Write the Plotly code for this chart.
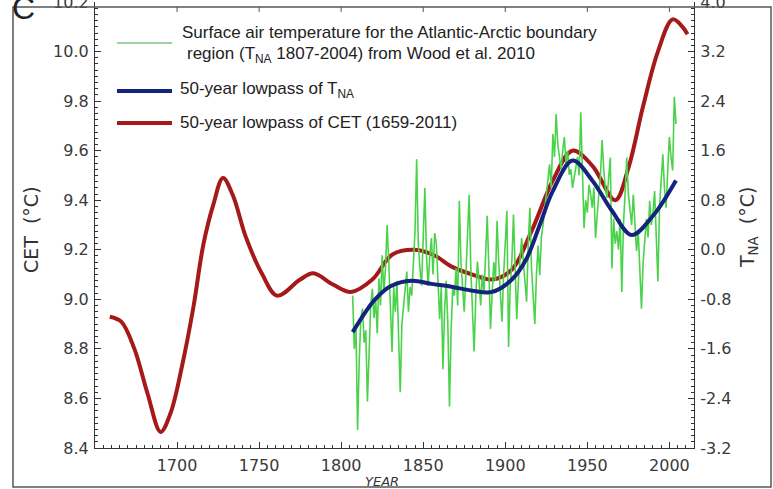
import plotly.graph_objects as go

# 50-year lowpass of Central England Temperature (left axis, deg C)
cet_years = [1659, 1666, 1674, 1682, 1690, 1696, 1703, 1710, 1716, 1722, 1728, 1734,
             1742, 1752, 1761, 1775, 1783, 1795, 1806, 1819, 1831, 1844, 1856, 1868,
             1880, 1892, 1904, 1916, 1929, 1941, 1953, 1967, 1975, 1984, 1993, 2002,
             2008, 2011]
cet_lowpass = [8.93, 8.91, 8.80, 8.62, 8.465, 8.54, 8.73, 8.97, 9.22, 9.38, 9.49, 9.42,
               9.25, 9.10, 9.015, 9.08, 9.105, 9.06, 9.03, 9.08, 9.18, 9.20, 9.18, 9.13,
               9.10, 9.08, 9.12, 9.275, 9.48, 9.60, 9.54, 9.40, 9.53, 9.78, 10.0, 10.13,
               10.10, 10.07]

# 50-year lowpass of T_NA (right axis, deg C)
tna_lp_years = [1807, 1815, 1820, 1830, 1843, 1855, 1868, 1880, 1892, 1904, 1913,
                1921, 1929, 1941, 1953, 1965, 1977, 1990, 2004]
tna_lowpass = [-1.33, -1.0, -0.82, -0.59, -0.50, -0.55, -0.60, -0.66, -0.68, -0.48,
               -0.14, 0.40, 0.95, 1.44, 1.12, 0.63, 0.24, 0.55, 1.12]

# Annual surface air temperature for the Atlantic-Arctic boundary region, 1807-2004
tna_years = list(range(1807, 2005))
tna_annual = [
    -0.74, -1.6, -1.2, -2.91, -1.8, -1.1, -0.95, -1.5, -1.3, -2.45,      # 1807-1816
    -1.7, -0.9, -0.63, -1.1, -0.8, -1.35, -0.46, -0.9, -0.09, -0.7,      # 1817-1826
    -0.3, 0.40, -0.2, -0.9, -1.65, -0.6, -1.0, -0.5, -1.4, -2.30,        # 1827-1836
    -1.2, -0.9, -0.63, -0.35, -1.0, -0.6, -0.74, -0.2, 0.3, 1.46,        # 1837-1846
    0.1, -0.3, -0.58, 0.2, 1.0, -0.1, -0.58, -0.1, 0.19, -0.4,           # 1847-1856
    0.27, 0.1, -0.5, -1.12, -0.6, -1.93, -1.0, -0.5, -1.2, -2.53,        # 1857-1866
    -1.3, -0.6, -0.74, -0.3, -0.9, 0.79, -0.2, -0.6, -1.0, -0.4,         # 1867-1876
    0.2, 0.89, -0.3, -0.90, -1.64, -0.8, -0.19, -0.5, -0.90, -0.4,       # 1877-1886
    -0.7, -0.1, 0.55, -0.3, -1.28, -0.7, -0.2, -0.5, 0.47, -0.2,         # 1887-1896
    -0.7, -1.16, -0.4, 0.1, 0.63, -1.57, -0.6, -0.2, 0.57, -0.3,         # 1897-1906
    -1.12, -0.5, -0.1, 0.19, -0.2, -0.5, -0.84, 0.1, 0.68, -0.3,         # 1907-1916
    -0.7, -1.20, -0.4, 0.07, -0.41, 0.2, 0.4, 0.63, 0.9, 1.1,            # 1917-1926
    1.38, 1.0, 1.87, 1.5, 2.19, 1.7, 1.49, 1.3, 1.6, 1.82,               # 1927-1936
    1.4, 1.6, 1.21, 1.3, 1.0, 1.2, 1.33, 1.5, 1.2, 2.22,                 # 1937-1946
    1.1, 0.35, 0.8, 0.6, 1.05, 0.9, 0.68, 1.0, 0.19, 0.6,                # 1947-1956
    0.9, 1.2, 1.77, 1.3, 1.0, 0.84, 1.2, 1.49, -0.30, 0.5,               # 1957-1966
    0.1, 0.30, 0.0, 0.5, -0.68, 0.4, 0.9, 1.49, 0.9, 0.68,               # 1967-1976
    0.4, 0.89, 0.5, -0.02, 0.3, -0.5, -0.95, -0.2, 0.19, 0.5,            # 1977-1986
    0.2, 0.79, 0.4, 0.6, 0.95, 0.2, -0.51, 0.7, 1.1, 1.54,               # 1987-1996
    1.0, 0.68, 1.3, 1.82, 1.5, 1.28, 2.47, 2.03,                         # 1997-2004
]

x_ticks = [1700, 1750, 1800, 1850, 1900, 1950, 2000]
cet_ticks = [8.4, 8.6, 8.8, 9.0, 9.2, 9.4, 9.6, 9.8, 10.0, 10.2]
tna_ticks = [-3.2, -2.4, -1.6, -0.8, 0.0, 0.8, 1.6, 2.4, 3.2, 4.0]

GREEN = "#4ad34a"
BLUE = "#15237c"
RED = "#a5191b"
TXT = "#333333"
TICKFONT = dict(family="DejaVu Sans", size=16, color="#3a3a3a")
LEGFONT = dict(family="Liberation Sans Narrow, Liberation Sans", size=17, color="#222222")

fig = go.Figure()
fig.add_trace(go.Scatter(x=tna_years, y=tna_annual, yaxis="y2", mode="lines",
                         line=dict(color=GREEN, width=1.6), showlegend=False))
fig.add_trace(go.Scatter(x=tna_lp_years, y=tna_lowpass, yaxis="y2", mode="lines",
                         line=dict(color=BLUE, width=4, shape="spline", smoothing=1.0),
                         showlegend=False))
fig.add_trace(go.Scatter(x=cet_years, y=cet_lowpass, yaxis="y", mode="lines",
                         line=dict(color=RED, width=4, shape="spline", smoothing=1.0),
                         showlegend=False))

W, H = 773, 489
L, R, T, B = 95, 79, 2, 41
PW, PH = W - L - R, H - T - B


def px(xp):
    return (xp - L) / PW


def py(yp):
    return (H - B - yp) / PH


axis_common = dict(showline=True, linecolor="#333333", linewidth=1.2,
                   ticks="inside", tickcolor="#333333", ticklen=6, tickwidth=1.2,
                   showgrid=False, zeroline=False, tickfont=TICKFONT,
                   ticklabeloverflow="allow", automargin=False)

fig.update_layout(
    width=W, height=H,
    margin=dict(l=L, r=R, t=T, b=B),
    paper_bgcolor="white", plot_bgcolor="white",
    xaxis=dict(range=[1650, 2015], tickvals=x_ticks, ticktext=[str(v) for v in x_ticks],
               minor=dict(dtick=5, ticks="inside", ticklen=3, tickcolor="#333333"),
               ticklabelstandoff=3, **axis_common),
    yaxis=dict(range=[8.4, 10.2001], tickvals=cet_ticks,
               ticktext=[f"{v:.1f}" for v in cet_ticks],
               minor=dict(dtick=0.025, tick0=8.4, ticks="inside", ticklen=3, tickcolor="#333333"),
               ticklabelstandoff=2, **axis_common),
    yaxis2=dict(range=[-3.2, 4.0004], tickvals=tna_ticks,
                ticktext=[f"{v:.1f}" for v in tna_ticks],
                overlaying="y", side="right",
                minor=dict(dtick=0.1, tick0=-3.2, ticks="inside", ticklen=3, tickcolor="#333333"),
                ticklabelstandoff=2, **axis_common),
)

shapes = [
    # outer frame
    dict(type="rect", xref="paper", yref="paper", x0=px(13), x1=px(771), y0=py(487), y1=py(7),
         line=dict(color="#555555", width=1.5), layer="above"),
    # legend samples
    dict(type="line", xref="paper", yref="paper", x0=px(117), x1=px(172), y0=py(43), y1=py(43),
         line=dict(color="#9fd29f", width=2)),
    dict(type="line", xref="paper", yref="paper", x0=px(117), x1=px(172), y0=py(91), y1=py(91),
         line=dict(color=BLUE, width=4)),
    dict(type="line", xref="paper", yref="paper", x0=px(117), x1=px(172), y0=py(123), y1=py(123),
         line=dict(color=RED, width=4)),
]
# small marks where the frame's top edge meets the major year ticks
for xv in x_ticks:
    shapes.append(dict(type="line", xref="x", yref="paper", x0=xv, x1=xv,
                       y0=py(12), y1=py(7), line=dict(color="#555555", width=1)))

annotations = [
    dict(text="Surface air temperature for the Atlantic-Arctic boundary", x=px(180), y=py(33),
         xanchor="left", yanchor="middle", font=LEGFONT),
    dict(text="region (T<sub>NA</sub> 1807-2004) from Wood et al. 2010", x=px(185), y=py(55),
         xanchor="left", yanchor="middle", font=LEGFONT),
    dict(text="50-year lowpass of T<sub>NA</sub>", x=px(178), y=py(90),
         xanchor="left", yanchor="middle", font=LEGFONT),
    dict(text="50-year lowpass of CET (1659-2011)", x=px(178), y=py(122),
         xanchor="left", yanchor="middle", font=LEGFONT),
    dict(text="CET  (°C)", x=px(31), y=py(230), textangle=-90, xanchor="center", yanchor="middle",
         font=dict(family="DejaVu Sans", size=19, color=TXT)),
    dict(text="T<sub>NA</sub>  (°C)", x=px(748), y=py(228), textangle=-90, xanchor="center",
         yanchor="middle", font=dict(family="DejaVu Sans", size=19, color=TXT)),
    dict(text="<i>YEAR</i>", x=px(382), y=py(481), xanchor="center", yanchor="middle",
         font=dict(family="DejaVu Sans", size=13, color=TXT)),
    dict(text="C", x=px(23), y=py(8), xanchor="center", yanchor="middle",
         font=dict(family="Liberation Sans", size=32, color="#222222")),
]
for a in annotations:
    a.update(xref="paper", yref="paper", showarrow=False)

fig.update_layout(shapes=shapes, annotations=annotations)
fig.write_html("out.html")
